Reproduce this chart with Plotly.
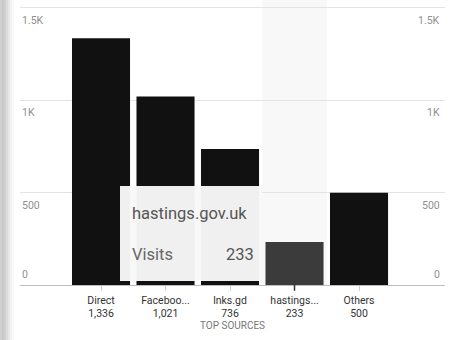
import plotly.graph_objects as go

categories = ["Direct", "Faceboo...", "lnks.gd", "hastings...", "Others"]
visits = [1336, 1021, 736, 233, 500]
bar_colors = ["#111111", "#111111", "#111111", "#3b3b3b", "#111111"]
ytick_vals = [0, 500, 1000, 1500]
ytick_text = ["0", "500", "1K", "1.5K"]
tooltip_title = "hastings.gov.uk"
tooltip_metric = "Visits"
tooltip_value = "233"

W, H = 454, 340
ml, mr, mt, mb = 20, 9, 0, 55
pw, ph = W - ml - mr, H - mt - mb

def px(x):
    return (x - ml) / pw

def py(y):
    return (H - mb - y) / ph

ticktext = [f"{c}<br>{v:,}" for c, v in zip(categories, visits)]

fig = go.Figure()
fig.add_trace(go.Bar(
    x=list(range(len(categories))), y=visits,
    marker=dict(color=bar_colors, line=dict(width=0)),
    width=0.9, hoverinfo="skip",
))

shapes = []
# hover highlight band
shapes.append(dict(type="rect", xref="x", yref="paper", x0=2.5, x1=3.5, y0=0, y1=1,
                   fillcolor="#f8f8f8", line=dict(width=0), layer="below"))
# tooltip box
shapes.append(dict(type="rect", xref="paper", yref="paper",
                   x0=px(120), x1=px(262), y0=py(281), y1=py(186),
                   fillcolor="rgba(248,248,248,0.97)", line=dict(width=0), layer="above"))
# dark tick under hovered bar
shapes.append(dict(type="line", xref="x", yref="paper", x0=3, x1=3, y0=0, y1=-0.02,
                   line=dict(color="#333", width=1.5)))
# left photo shadow
for i, c in enumerate(["#d0d0d0", "#c8c8c8", "#d0d0d0", "#dcdcdc", "#e8e8e8", "#f3f3f3", "#fafafa"]):
    shapes.append(dict(type="rect", xref="paper", yref="paper",
                       x0=px(2 * i), x1=px(2 * i + 2), y0=-mb / ph, y1=1,
                       fillcolor=c, line=dict(width=0), layer="below"))

annotations = []
for v, t in zip(ytick_vals, ytick_text):
    anchor = "bottom" if v == 0 else "top"
    shift = 2 if v == 0 else -4
    annotations.append(dict(x=px(20), xref="paper", y=v, yref="y", text=t, showarrow=False,
                            xanchor="left", yanchor=anchor, yshift=shift,
                            font=dict(size=10.5, color="#909090")))
    annotations.append(dict(x=px(442), xref="paper", y=v, yref="y", text=t, showarrow=False,
                            xanchor="right", yanchor=anchor, yshift=shift,
                            font=dict(size=10.5, color="#909090")))
annotations.append(dict(x=px(130), xref="paper", y=py(213), yref="paper", text=tooltip_title,
                        showarrow=False, xanchor="left", yanchor="middle",
                        font=dict(size=16.5, color="#555")))
annotations.append(dict(x=px(130), xref="paper", y=py(254), yref="paper", text=tooltip_metric,
                        showarrow=False, xanchor="left", yanchor="middle",
                        font=dict(size=16.5, color="#666")))
annotations.append(dict(x=px(256), xref="paper", y=py(254), yref="paper", text=tooltip_value,
                        showarrow=False, xanchor="right", yanchor="middle",
                        font=dict(size=16.5, color="#555")))

fig.update_layout(
    width=W, height=H,
    margin=dict(l=ml, r=mr, t=mt, b=mb),
    paper_bgcolor="white", plot_bgcolor="white",
    font=dict(family="Roboto, Arial, sans-serif"),
    showlegend=False,
    shapes=shapes, annotations=annotations,
    xaxis=dict(range=[-1.256, 5.333], tickmode="array",
               tickvals=list(range(len(categories))), ticktext=ticktext,
               tickfont=dict(size=10.5, color="#333"), ticks="outside", ticklen=5,
               tickcolor="#cfcfcf", showgrid=False, showline=False, zeroline=False,
               title=dict(text="TOP SOURCES", font=dict(size=10, color="#777"), standoff=2)),
    yaxis=dict(range=[0, 1543], tickvals=ytick_vals, showticklabels=False,
               showgrid=True, gridcolor="#e3e3e3", gridwidth=1,
               zeroline=True, zerolinecolor="#bdbdbd", zerolinewidth=1),
)

fig.write_html("out.html")
